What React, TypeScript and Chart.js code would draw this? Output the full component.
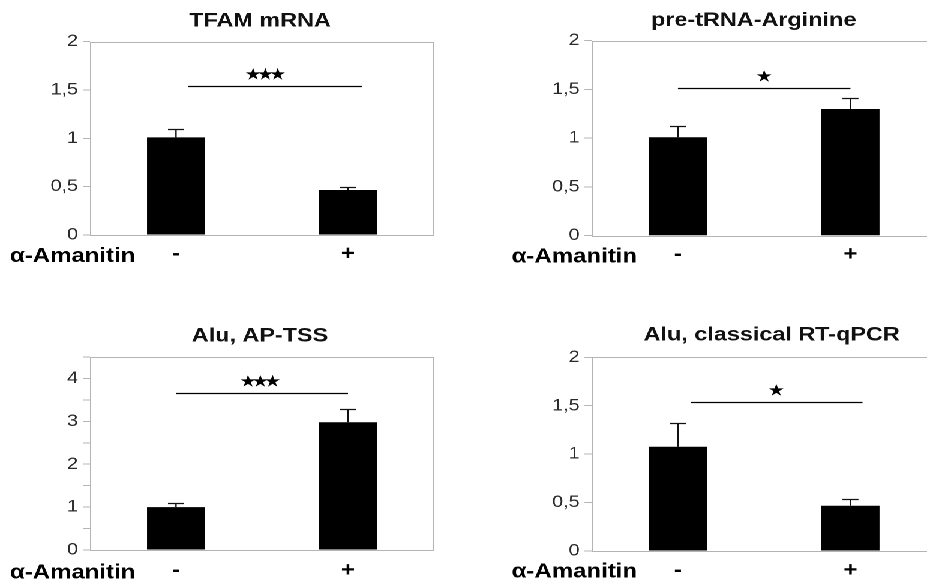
import React, { useEffect, useRef } from "react";
import { Chart, registerables } from "chart.js";

Chart.register(...registerables);

// ---------------- data ----------------
const treatment = ["-", "+"];
const treatmentName = "α-Amanitin";

const tfamTitle = "TFAM mRNA";
const tfamMean = [1.01, 0.465];
const tfamErr = [0.086, 0.035];
const tfamTickValues = [0, 0.5, 1, 1.5, 2];
const tfamTickLabels = ["0", "0,5", "1", "1,5", "2"];
const tfamStars = "★★★";
const tfamSigLevel = 1.54;

const argTitle = "pre-tRNA-Arginine";
const argMean = [1.01, 1.3];
const argErr = [0.11, 0.11];
const argTickValues = [0, 0.5, 1, 1.5, 2];
const argTickLabels = ["0", "0,5", "1", "1,5", "2"];
const argStars = "★";
const argSigLevel = 1.52;

const apTitle = "Alu, AP-TSS";
const apMean = [1.0, 2.98];
const apErr = [0.1, 0.31];
const apTickValues = [0, 0.5, 1, 1.5, 2, 2.5, 3, 3.5, 4, 4.5];
const apTickLabels = ["0", "", "1", "", "2", "", "3", "", "4", ""];
const apStars = "★★★";
const apSigLevel = 3.66;

const qTitle = "Alu, classical RT-qPCR";
const qMean = [1.076, 0.467];
const qErr = [0.245, 0.073];
const qTickValues = [0, 0.5, 1, 1.5, 2];
const qTickLabels = ["0", "0,5", "1", "1,5", "2"];
const qStars = "★";
const qSigLevel = 1.54;

// significance bar span, in category units measured from the first bar
const sigFrom = [0.07, 0.0, 0.0, 0.074];
const sigTo = [1.08, 1.0, 1.0, 1.07];
const starAt = [0.52, 0.5, 0.49, 0.57];

// ---------------- layout / style ----------------
const SX = 1.2; // horizontal stretch of the reference figure
const FONT = '"Liberation Sans", Arial, sans-serif';
const GREY = "#b4b4b4";

type Panel = {
  title: string;
  mean: number[];
  err: number[];
  tickValues: number[];
  tickLabels: string[];
  stars: string;
  sigLevel: number;
  idx: number;
  box: {
    left: number; top: number; width: number; height: number;
    plotL: number; plotR: number; plotT: number; plotB: number;
    titleDx: number; titleDy: number; labelDy: number; tickPad: number;
  };
};

const panels: Panel[] = [
  {
    title: tfamTitle, mean: tfamMean, err: tfamErr, tickValues: tfamTickValues, tickLabels: tfamTickLabels,
    stars: tfamStars, sigLevel: tfamSigLevel, idx: 0,
    box: { left: 0, top: 0, width: 462, height: 290, plotL: 90, plotR: 434, plotT: 41.7, plotB: 235, titleDx: 170, titleDy: 15, labelDy: 27, tickPad: 7 },
  },
  {
    title: argTitle, mean: argMean, err: argErr, tickValues: argTickValues, tickLabels: argTickLabels,
    stars: argStars, sigLevel: argSigLevel, idx: 1,
    box: { left: 462, top: 0, width: 498, height: 290, plotL: 591.7, plotR: 936.7, plotT: 40.7, plotB: 235.7, titleDx: 162, titleDy: 14.5, labelDy: 27, tickPad: 7 },
  },
  {
    title: apTitle, mean: apMean, err: apErr, tickValues: apTickValues, tickLabels: apTickLabels,
    stars: apStars, sigLevel: apSigLevel, idx: 2,
    box: { left: 0, top: 290, width: 462, height: 292, plotL: 90, plotR: 434, plotT: 357, plotB: 550, titleDx: 170, titleDy: 15.5, labelDy: 28.5, tickPad: 8.5 },
  },
  {
    title: qTitle, mean: qMean, err: qErr, tickValues: qTickValues, tickLabels: qTickLabels,
    stars: qStars, sigLevel: qSigLevel, idx: 3,
    box: { left: 462, top: 290, width: 498, height: 292, plotL: 591.7, plotR: 936.7, plotT: 357.3, plotB: 551, titleDx: 180, titleDy: 17, labelDy: 26.5, tickPad: 7.5 },
  },
];

function makeDecor(p: Panel) {
  return {
    id: "decor" + p.idx,
    beforeDatasetsDraw(chart: any) {
      const { ctx, chartArea: a } = chart;
      ctx.save();
      ctx.strokeStyle = GREY;
      ctx.lineWidth = 1;
      ctx.strokeRect(a.left + 0.5, Math.round(a.top) + 0.5, a.right - a.left - 1, Math.round(a.bottom) - Math.round(a.top));
      ctx.restore();
    },
    afterDatasetsDraw(chart: any) {
      const { ctx, scales } = chart;
      const x = scales.x;
      const y = scales.y;
      ctx.save();
      // error bars (upper only)
      ctx.strokeStyle = "#111";
      ctx.lineWidth = 1.2;
      p.mean.forEach((v, i) => {
        const cx = x.getPixelForValue(i);
        const y0 = y.getPixelForValue(v);
        const y1 = Math.round(y.getPixelForValue(v + p.err[i])) + 0.5;
        const cap = 8 / SX;
        ctx.beginPath();
        ctx.moveTo(cx, y0);
        ctx.lineTo(cx, y1);
        ctx.moveTo(cx - cap, y1);
        ctx.lineTo(cx + cap, y1);
        ctx.stroke();
      });
      // significance bar
      const x0 = x.getPixelForValue(0);
      const step = x.getPixelForValue(1) - x0;
      const sy = Math.round(y.getPixelForValue(p.sigLevel)) + 0.5;
      ctx.strokeStyle = "#000";
      ctx.lineWidth = 1.2;
      ctx.beginPath();
      ctx.moveTo(x0 + sigFrom[p.idx] * step, sy);
      ctx.lineTo(x0 + sigTo[p.idx] * step, sy);
      ctx.stroke();
      // stars
      ctx.fillStyle = "#000";
      ctx.font = '16px "DejaVu Sans", sans-serif';
      ctx.textAlign = "center";
      ctx.textBaseline = "middle";
      const chars = Array.from(p.stars);
      const gap = 12.3 / SX;
      const cxs = x0 + starAt[p.idx] * step;
      chars.forEach((c, k) => {
        ctx.fillText(c, cxs + (k - (chars.length - 1) / 2) * gap, sy - 11);
      });
      ctx.restore();
    },
    afterDraw(chart: any) {
      const { ctx, chartArea: a } = chart;
      ctx.save();
      ctx.fillStyle = "#111";
      ctx.font = `bold 19.5px ${FONT}`;
      ctx.textAlign = "center";
      ctx.textBaseline = "alphabetic";
      ctx.fillText(p.title, a.left + p.box.titleDx / SX, a.top - p.box.titleDy);
      ctx.fillStyle = "#000";
      ctx.font = `bold 20px ${FONT}`;
      ctx.textAlign = "left";
      ctx.fillText(treatmentName, a.left - 80 / SX, a.bottom + p.box.labelDy);
      ctx.restore();
    },
  };
}

function PanelChart({ p }: { p: Panel }) {
  const ref = useRef<HTMLCanvasElement | null>(null);
  const b = p.box;
  const wi = Math.round(b.width / SX);
  useEffect(() => {
    if (!ref.current) return;
    const yAxisW = (b.plotL - b.left) / SX;
    const padRight = (b.left + b.width - b.plotR) / SX;
    const xAxisH = b.top + b.height - b.plotB;
    const chart = new Chart(ref.current, {
      type: "bar",
      data: {
        labels: treatment,
        datasets: [
          {
            data: p.mean,
            backgroundColor: "#000",
            borderWidth: 0,
            barPercentage: 0.337,
            categoryPercentage: 1,
          },
        ],
      },
      options: {
        responsive: false,
        animation: false,
        devicePixelRatio: 2,
        layout: { padding: { left: 0, right: padRight, top: b.plotT - b.top, bottom: 0 } },
        plugins: { legend: { display: false }, tooltip: { enabled: false }, title: { display: false } },
        scales: {
          x: {
            grid: { display: false, drawTicks: false },
            border: { display: false },
            ticks: {
              font: { family: FONT, size: 20, weight: "bold" },
              color: "#000",
              padding: b.tickPad,
              maxRotation: 0,
              autoSkip: false,
            },
            afterFit: (s: any) => {
              s.height = xAxisH;
            },
          },
          y: {
            min: 0,
            max: p.tickValues[p.tickValues.length - 1],
            afterBuildTicks: (s: any) => {
              s.ticks = p.tickValues.map((v) => ({ value: v }));
            },
            afterFit: (s: any) => {
              s.width = yAxisW;
            },
            grid: { drawOnChartArea: false, color: GREY, tickLength: 6, tickWidth: 1 },
            border: { display: false },
            ticks: {
              font: { family: FONT, size: 16.5 },
              color: "#2a2a2a",
              padding: 4,
              autoSkip: false,
              callback: (_v: any, i: number) => p.tickLabels[i],
            },
          },
        },
      },
      plugins: [makeDecor(p)],
    } as any);
    return () => chart.destroy();
  }, []);
  return (
    <canvas
      ref={ref}
      width={wi}
      height={b.height}
      style={{ position: "absolute", left: b.left / SX, top: b.top, width: wi, height: b.height }}
    />
  );
}

export default function App() {
  return (
    <div style={{ position: "absolute", left: 0, top: 0, width: 927, height: 582, overflow: "hidden", background: "#fff" }}>
      <div
        style={{
          position: "absolute",
          left: 0,
          top: 0,
          width: 960 / SX,
          height: 582,
          transform: `scaleX(${SX})`,
          transformOrigin: "0 0",
        }}
      >
        {panels.map((p) => (
          <PanelChart key={p.idx} p={p} />
        ))}
      </div>
    </div>
  );
}
